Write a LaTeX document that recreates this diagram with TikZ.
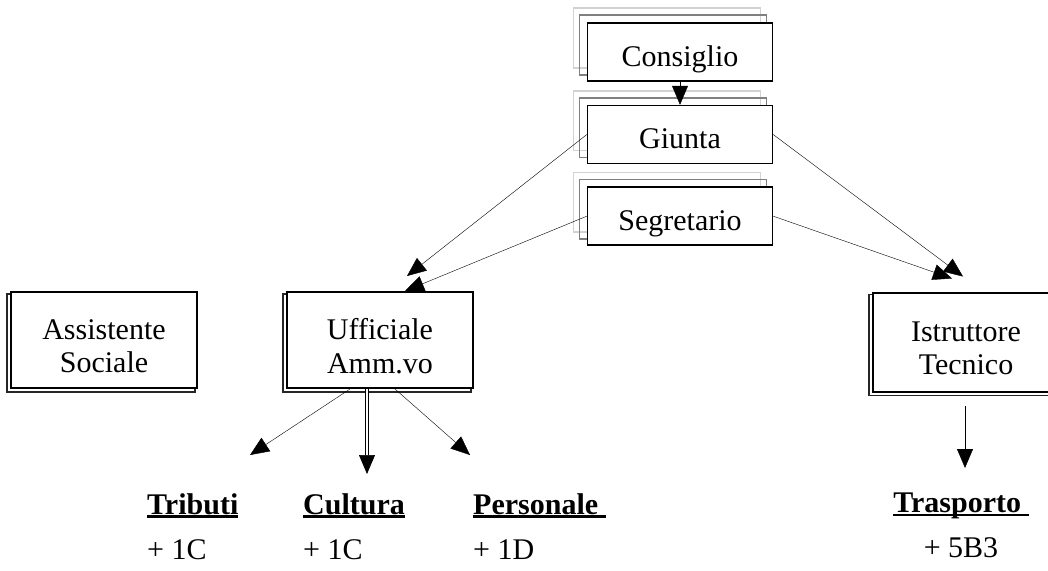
\documentclass[tikz,border=0pt]{standalone}
\usepackage{fontspec}
\setmainfont{Liberation Serif}
\usetikzlibrary{arrows.meta, positioning, backgrounds}

% bold underlined heading with a heavy rule
\newcommand{\undl}[1]{\setbox0\hbox{\textbf{#1}}\rlap{\rule[-3.5pt]{\wd0}{2.5pt}}\box0}

\begin{document}
\begin{tikzpicture}[
            x = 1pt, y = -1pt,
            > = {Triangle[length=19pt, width=16pt]},
            every node/.style = {font=\fontsize{30}{32}\selectfont},
            thin
        ]

        \tikzstyle{pile}=[
            draw = black,
            line width = 1.6pt,
            fill = white,
            minimum width = 185pt,
            minimum height = 58pt,
            text height = 32pt,
            text depth = 4pt
        ]
        \tikzstyle{frame}=[
            draw = black,
            line width = 2pt,
            fill = white,
            align = center,
            minimum width = 186pt,
            minimum height = 96pt
        ]
        \tikzstyle{lab}=[
            anchor = north west,
            inner sep = 0pt,
            align = left
        ]

        \useasboundingbox (0,0) rectangle (1048,570);

        \node[pile] (con) at (680,52) {Consiglio};
        \node[pile] (giu) [below=23pt of con] {Giunta};
        \node[pile] (seg) [below=22pt of giu] {Segretario};

        \node[frame] (uff) at (380,340) {\rule{0pt}{33pt}Ufficiale\\[2pt]Amm.vo};
        \node[frame] (ass) [left=88pt of uff] {\rule{0pt}{33pt}Assistente\\[1pt]Sociale};
        \node[frame, minimum height=99pt] (ist) at (966,342) {\rule{0pt}{33pt}Istruttore\\[1pt]Tecnico};

        \node[lab] (trib) at (147,493) {\undl{Tributi}\\[13pt]+ 1C};
        \node[lab] (cult) at (303,493) {\undl{Cultura}\\[13pt]+ 1C};
        \node[lab] (pers) at (473,493) {\undl{Personale\ }\\[13pt]+ 1D};
        \node[lab, anchor=north, align=center] (tras) at (961,493) {\undl{Trasporto\ }\\[13pt]+ 5B3};

        % shadows behind the boxes
        \begin{scope}[on background layer]
        \foreach \n in {con, giu, seg} {
            \draw[gray!35, line width=1.5pt] ([shift={(-13,-14)}]\n.south west) rectangle ([shift={(-13,-14)}]\n.north east);
            \draw[gray, line width=1.5pt] ([shift={(-7,-7)}]\n.south west) rectangle ([shift={(-7,-7)}]\n.north east);
        }
        \foreach \n in {ass, uff, ist} {
            \draw[black!85, line width=1.5pt] ([shift={(-3,3)}]\n.south west) rectangle ([shift={(-3,3)}]\n.north east);
        }
        \end{scope}

        \draw[->] (con) -- (giu);
        \draw[->] (giu.west) -- ([shift={(27,-15)}]uff.north);
        \draw[->] (seg.west) -- ([shift={(25,0)}]uff.north);
        \draw[->] (giu.east) -- ([shift={(-3,-15)}]ist.north);
        \draw[->] (seg.east) -- ([shift={(-14,-13)}]ist.north);

        \draw[->] ([shift={(-30,0)}]uff.south) -- ([shift={(103,-38)}]trib.north west);
        \draw[->, double, double distance=2.5pt, line width=0.7pt] ([shift={(-13,0)}]uff.south) -- ([shift={(64,-19)}]cult.north west);
        \draw[->] ([shift={(15,0)}]uff.south) -- ([shift={(-3,-38)}]pers.north west);
        \draw[->] ([shift={(-1,13)}]ist.south) -- ([shift={(4,-25)}]tras.north);

    \end{tikzpicture}
\end{document}
